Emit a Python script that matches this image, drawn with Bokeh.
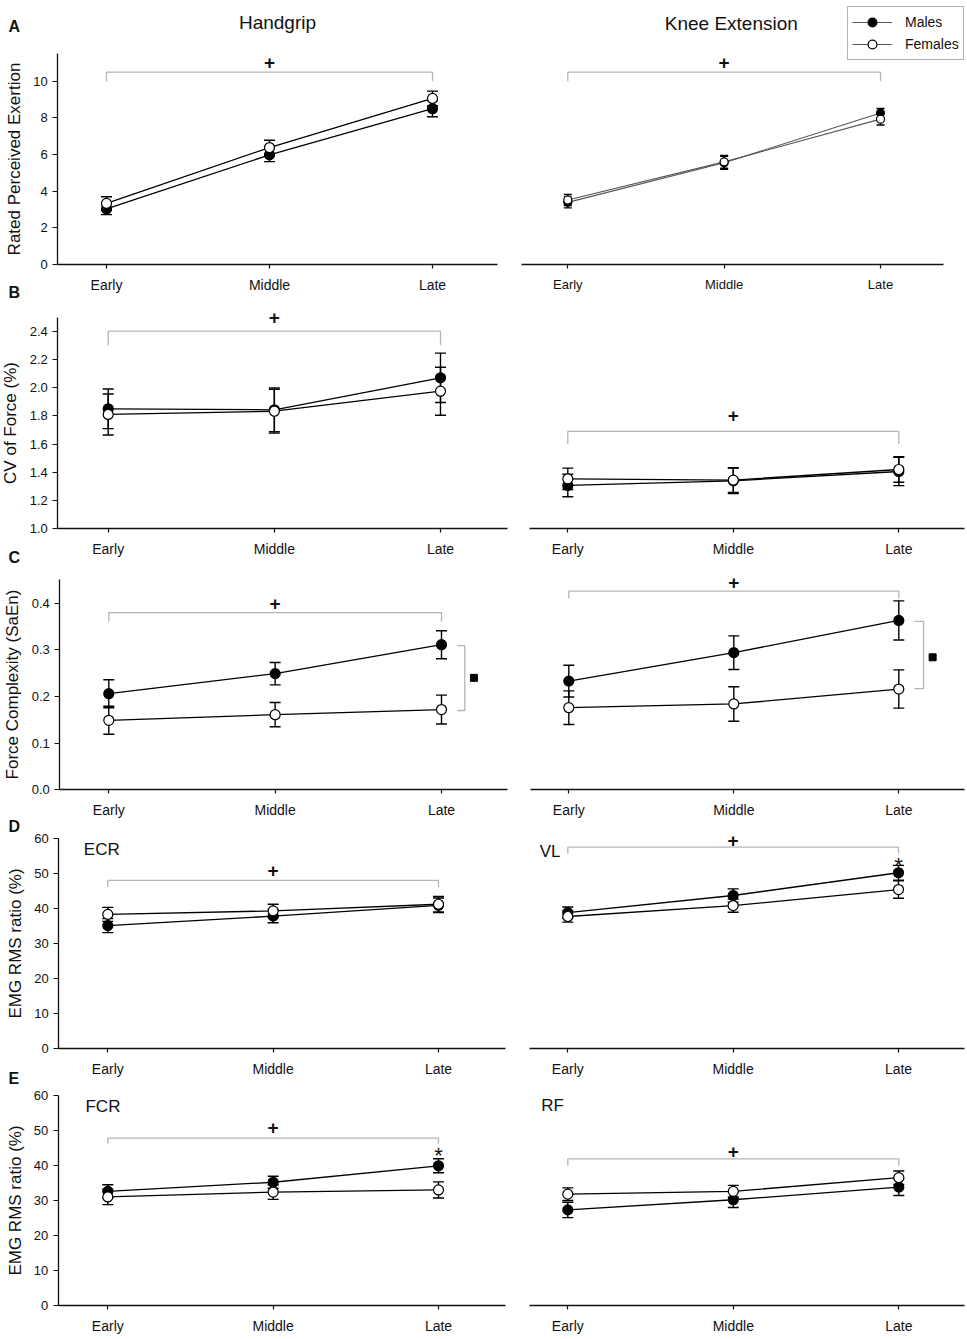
from bokeh.plotting import figure
from bokeh.layouts import column, row
from bokeh.models import (ColumnDataSource, Whisker, TeeHead, Label, Legend, LegendItem,
                          FixedTicker, Range1d, NumeralTickFormatter)
from bokeh.core.properties import value
from bokeh.embed import file_html
from bokeh.resources import INLINE

FONT = "Liberation Sans"
INK = "#111111"
BRACKET = "#b5b5b5"

# ---------------- data ----------------
phases = ["Early", "Middle", "Late"]
sexes = ["Males", "Females"]

# A: Rated perceived exertion (mean, SE)
rpe_hg_m = [3.03, 5.98, 8.50]
rpe_hg_m_se = [0.31, 0.37, 0.44]
rpe_hg_f = [3.33, 6.38, 9.06]
rpe_hg_f_se = [0.37, 0.40, 0.40]
rpe_ke_m = [3.39, 5.55, 8.26]
rpe_ke_m_se = [0.30, 0.35, 0.25]
rpe_ke_f = [3.52, 5.60, 7.93]
rpe_ke_f_se = [0.30, 0.35, 0.32]

# B: CV of force (%)
cv_hg_m = [1.850, 1.843, 2.070]
cv_hg_m_se = [0.140, 0.155, 0.175]
cv_hg_f = [1.810, 1.833, 1.975]
cv_hg_f_se = [0.145, 0.155, 0.170]
cv_ke_m = [1.307, 1.340, 1.406]
cv_ke_m_se = [0.080, 0.090, 0.100]
cv_ke_f = [1.354, 1.345, 1.420]
cv_ke_f_se = [0.076, 0.088, 0.090]

# C: Force complexity (SaEn)
saen_hg_m = [0.206, 0.249, 0.311]
saen_hg_m_se = [0.030, 0.024, 0.030]
saen_hg_f = [0.149, 0.161, 0.172]
saen_hg_f_se = [0.030, 0.026, 0.031]
saen_ke_m = [0.233, 0.294, 0.363]
saen_ke_m_se = [0.034, 0.036, 0.042]
saen_ke_f = [0.176, 0.184, 0.216]
saen_ke_f_se = [0.036, 0.037, 0.041]

# D: EMG RMS ratio (%) ECR / VL
ecr_m = [35.2, 37.9, 41.0]
ecr_m_se = [2.0, 1.9, 2.1]
ecr_f = [38.4, 39.4, 41.3]
ecr_f_se = [2.0, 1.9, 2.2]
vl_m = [38.9, 43.8, 50.3]
vl_m_se = [1.6, 1.9, 2.1]
vl_f = [37.8, 40.9, 45.5]
vl_f_se = [1.6, 1.9, 2.5]

# E: EMG RMS ratio (%) FCR / RF
fcr_m = [32.7, 35.3, 40.0]
fcr_m_se = [1.9, 1.7, 2.0]
fcr_f = [31.1, 32.5, 33.1]
fcr_f_se = [2.2, 2.1, 2.3]
rf_m = [27.4, 30.3, 33.9]
rf_m_se = [2.2, 2.2, 2.4]
rf_f = [31.9, 32.7, 36.6]
rf_f_se = [1.8, 1.7, 1.9]

# axis extents per row
y_bounds = {"A": (0.0, 11.5), "B": (1.0, 2.5), "C": (0.0, 0.45), "D": (0.0, 60.0), "E": (0.0, 60.0)}
y_ticks = {"A": [0, 2, 4, 6, 8, 10], "B": [1.0, 1.2, 1.4, 1.6, 1.8, 2.0, 2.2, 2.4],
           "C": [0.0, 0.1, 0.2, 0.3, 0.4], "D": [0, 10, 20, 30, 40, 50, 60],
           "E": [0, 10, 20, 30, 40, 50, 60]}
y_titles = {"A": "Rated Perceived Exertion", "B": "CV of Force (%)",
            "C": "Force Complexity (SaEn)", "D": "EMG RMS ratio (%)", "E": "EMG RMS ratio (%)"}

# significance brackets over time: (bracket top, bracket end, "+" height)
time_hg = {"A": (10.5, 10.0, 11.0), "B": (2.40, 2.30, 2.50), "C": (0.380, 0.360, 0.400),
           "D": (48.1, 46.2, 50.9), "E": (47.9, 46.3, 51.0)}
time_ke = {"A": (10.5, 10.0, 11.0), "B": (1.69, 1.60, 1.80), "C": (0.426, 0.410, 0.444),
           "D": (57.6, 55.7, 59.5), "E": (42.0, 40.1, 44.1)}
# sex-difference brackets in C: (x inner, x outer, y top, y bottom, marker x, marker y)
sex_hg = (2.095, 2.14, 0.309, 0.170, 2.195, 0.240)
sex_ke = (2.095, 2.15, 0.361, 0.217, 2.205, 0.284)
# asterisks (x index, y)
star_vl = (2, 52.3)
star_fcr = (2, 42.9)

x_idx = list(range(len(phases)))

# ---------------- page geometry (pixels) ----------------
# fig top, fig bottom, (px, value) and (px, value) anchors of the y scale
ROWS = {
    "A": (0, 302, (264.0, 0.0), (80.7, 10.0)),
    "B": (302, 567, (528.3, 1.0), (330.7, 2.4)),
    "C": (567, 819, (789.3, 0.0), (602.7, 0.4)),
    "D": (819, 1085, (1048.3, 0.0), (838.3, 60.0)),
    "E": (1085, 1337, (1305.3, 0.0), (1095.3, 60.0)),
}
# fig left, fig right, px of first phase, px of last phase, x-axis start px, x-axis end px
COL_L = {
    "A": (0, 510, 106.0, 432.0, 57.3, 497.0),
    "B": (0, 510, 107.7, 440.0, 57.3, 507.0),
    "C": (0, 510, 108.3, 441.0, 59.3, 507.0),
    "D": (0, 510, 107.3, 438.0, 58.3, 505.0),
    "E": (0, 510, 107.3, 438.0, 57.7, 505.0),
}
COL_R = {
    "A": (510, 965, 567.3, 880.0, 521.0, 943.0),
    "B": (510, 965, 567.3, 898.3, 529.0, 964.0),
    "C": (510, 965, 568.3, 898.3, 530.0, 964.0),
    "D": (510, 965, 567.3, 898.0, 529.0, 964.0),
    "E": (510, 965, 567.3, 898.3, 529.0, 964.0),
}


def lin(px, p0, v0, p1, v1):
    return v0 + (px - p0) * (v1 - v0) / (p1 - p0)


def make_fig(key, side, xfont="14px"):
    top, bot, (pa, va), (pb, vb) = ROWS[key]
    lo, hi = y_bounds[key]
    left, right, c0, c1, ax0, ax1 = (COL_L if side == "L" else COL_R)[key]
    fx = lambda px: lin(px, c0, x_idx[0], c1, x_idx[-1])
    fy = lambda py: lin(py, pa, va, pb, vb)
    p = figure(width=right - left, height=bot - top,
               x_range=Range1d(fx(left), fx(right)), y_range=Range1d(fy(bot), fy(top)),
               output_backend="svg", toolbar_location=None, title=None,
               y_axis_location="left" if side == "L" else None,
               min_border_left=0, min_border_right=0, min_border_top=0, min_border_bottom=0)
    p.xgrid.visible = False
    p.ygrid.visible = False
    p.outline_line_color = None
    p.background_fill_color = "white"
    p.border_fill_color = "white"
    ax = p.xaxis[0]
    ax.fixed_location = lo
    ax.bounds = (fx(ax0), fx(ax1))
    ax.ticker = FixedTicker(ticks=x_idx)
    ax.major_label_overrides = {i: s for i, s in enumerate(phases)}
    ax.axis_line_color = INK
    ax.axis_line_width = 1.3
    ax.major_tick_line_color = INK
    ax.major_tick_line_width = 1.2
    ax.major_tick_out = 4
    ax.major_tick_in = 0
    ax.minor_tick_line_color = None
    ax.major_label_standoff = 8
    ax.major_label_text_font = FONT
    ax.major_label_text_font_size = xfont
    ax.major_label_text_color = INK
    if side == "L":
        ay = p.yaxis[0]
        ay.fixed_location = fx(ax0)
        ay.bounds = (lo, hi)
        ay.ticker = FixedTicker(ticks=y_ticks[key])
        if key in ("B", "C"):
            ay.formatter = NumeralTickFormatter(format="0.0")
        ay.axis_label = y_titles[key]
        ay.axis_label_text_font = FONT
        ay.axis_label_text_font_size = "17px"
        ay.axis_label_text_font_style = "normal"
        ay.axis_label_text_color = INK
        ay.axis_label_standoff = 6
        ay.axis_line_color = INK
        ay.axis_line_width = 1.3
        ay.major_tick_line_color = INK
        ay.major_tick_line_width = 1.2
        ay.major_tick_out = 5
        ay.major_tick_in = 0
        ay.minor_tick_line_color = None
        ay.major_label_standoff = 5
        ay.major_label_text_font = FONT
        ay.major_label_text_font_size = "13px"
        ay.major_label_text_color = INK
    p._page = (left, top, bot)
    return p


def page_text(p, px, py, s, size="17px", style="normal", align="left", baseline="middle"):
    left, top, bot = p._page
    p.add_layout(Label(x=px - left, y=bot - py, x_units="screen", y_units="screen", text=s,
                       text_align=align, text_baseline=baseline, text_font=FONT,
                       text_font_size=size, text_font_style=style, text_color=INK))


def data_text(p, x, y, s, size="17px", style="normal", align="left"):
    p.add_layout(Label(x=x, y=y, text=s, text_align=align, text_baseline="middle",
                       text_font=FONT, text_font_size=size, text_font_style=style,
                       text_color=INK))


def add_data(p, ym, ym_se, yf, yf_se, lc="black", lw=1.3, ms=10, cap=11):
    srcs = []
    for y, se in ((ym, ym_se), (yf, yf_se)):
        src = ColumnDataSource(dict(x=x_idx, y=y,
                                    upper=[a + b for a, b in zip(y, se)],
                                    lower=[a - b for a, b in zip(y, se)]))
        w = Whisker(source=src, base="x", upper="upper", lower="lower",
                    line_color="black", line_width=1.4, level="underlay",
                    upper_head=TeeHead(size=cap, line_color="black", line_width=1.4),
                    lower_head=TeeHead(size=cap, line_color="black", line_width=1.4))
        p.add_layout(w)
        srcs.append(src)
    lines = [p.line("x", "y", source=s, line_color=lc, line_width=lw) for s in srcs]
    fills = ["black", "white"]
    marks = [p.scatter("x", "y", source=s, marker="circle", size=ms, fill_color=f,
                       line_color="black", line_width=1.2) for s, f in zip(srcs, fills)]
    return lines, marks


def add_time_bracket(p, spec):
    top, end, plus_y = spec
    x0, x1 = x_idx[0], x_idx[-1]
    p.line([x0, x0, x1, x1], [end, top, top, end], line_color=BRACKET, line_width=1.3)
    data_text(p, x_idx[1], plus_y, "+", size="19px", style="bold", align="center")


def add_sex_bracket(p, spec):
    xa, xb, yt, yb, mx, my = spec
    p.line([xa, xb, xb, xa], [yt, yt, yb, yb], line_color=BRACKET, line_width=1.3)
    p.scatter([mx], [my], marker="square", size=7, fill_color="black", line_color="black")


def add_star(p, spec):
    data_text(p, spec[0], spec[1], "*", size="22px", align="center")


LETTER = dict(size="16px", style="bold")

# ---------------- row A ----------------
a_l = make_fig("A", "L")
add_time_bracket(a_l, time_hg["A"])
add_data(a_l, rpe_hg_m, rpe_hg_m_se, rpe_hg_f, rpe_hg_f_se)
page_text(a_l, 277, 21.5, "Handgrip", size="19px", align="center", baseline="alphabetic")
page_text(a_l, 8, 25.5, "A", **LETTER)
page_text(a_l, 8, 291.5, "B", **LETTER)

a_r = make_fig("A", "R", xfont="13px")
add_time_bracket(a_r, time_ke["A"])
lines, marks = add_data(a_r, rpe_ke_m, rpe_ke_m_se, rpe_ke_f, rpe_ke_f_se,
                        lc="#555555", lw=1.1, ms=8, cap=8)
page_text(a_r, 730.8, 23, "Knee Extension", size="19px", align="center", baseline="alphabetic")
legend = Legend(items=[LegendItem(label=value(sexes[0]), renderers=[lines[0], marks[0]]),
                       LegendItem(label=value(sexes[1]), renderers=[lines[1], marks[1]])],
                location=(337, 242), orientation="vertical", padding=4, spacing=0,
                glyph_width=40, glyph_height=22, label_height=22, label_standoff=13,
                label_text_font=FONT, label_text_font_size="14px", label_text_color=INK,
                border_line_color="#666666", border_line_width=1.2,
                background_fill_color="white", background_fill_alpha=1.0, margin=0)
a_r.add_layout(legend)

# ---------------- row B ----------------
b_l = make_fig("B", "L")
add_time_bracket(b_l, time_hg["B"])
add_data(b_l, cv_hg_m, cv_hg_m_se, cv_hg_f, cv_hg_f_se)
page_text(b_l, 8, 557, "C", **LETTER)

b_r = make_fig("B", "R")
add_time_bracket(b_r, time_ke["B"])
add_data(b_r, cv_ke_m, cv_ke_m_se, cv_ke_f, cv_ke_f_se)

# ---------------- row C ----------------
c_l = make_fig("C", "L")
add_time_bracket(c_l, time_hg["C"])
add_sex_bracket(c_l, sex_hg)
add_data(c_l, saen_hg_m, saen_hg_m_se, saen_hg_f, saen_hg_f_se)

c_r = make_fig("C", "R")
add_time_bracket(c_r, time_ke["C"])
add_sex_bracket(c_r, sex_ke)
add_data(c_r, saen_ke_m, saen_ke_m_se, saen_ke_f, saen_ke_f_se)

# ---------------- row D ----------------
d_l = make_fig("D", "L")
add_time_bracket(d_l, time_hg["D"])
add_data(d_l, ecr_m, ecr_m_se, ecr_f, ecr_f_se)
data_text(d_l, -0.145, 57.0, "ECR")
page_text(d_l, 8, 825.5, "D", **LETTER)
page_text(d_l, 8, 1077.5, "E", **LETTER)

d_r = make_fig("D", "R")
add_time_bracket(d_r, time_ke["D"])
add_data(d_r, vl_m, vl_m_se, vl_f, vl_f_se)
add_star(d_r, star_vl)
data_text(d_r, -0.170, 56.4, "VL")

# ---------------- row E ----------------
e_l = make_fig("E", "L")
add_time_bracket(e_l, time_hg["E"])
add_data(e_l, fcr_m, fcr_m_se, fcr_f, fcr_f_se)
add_star(e_l, star_fcr)
data_text(e_l, -0.135, 56.9, "FCR")

e_r = make_fig("E", "R")
add_time_bracket(e_r, time_ke["E"])
add_data(e_r, rf_m, rf_m_se, rf_f, rf_f_se)
data_text(e_r, -0.160, 57.2, "RF")

layout = column(row(a_l, a_r), row(b_l, b_r), row(c_l, c_r), row(d_l, d_r), row(e_l, e_r))

open("out.html", "w").write(file_html(layout, INLINE))
